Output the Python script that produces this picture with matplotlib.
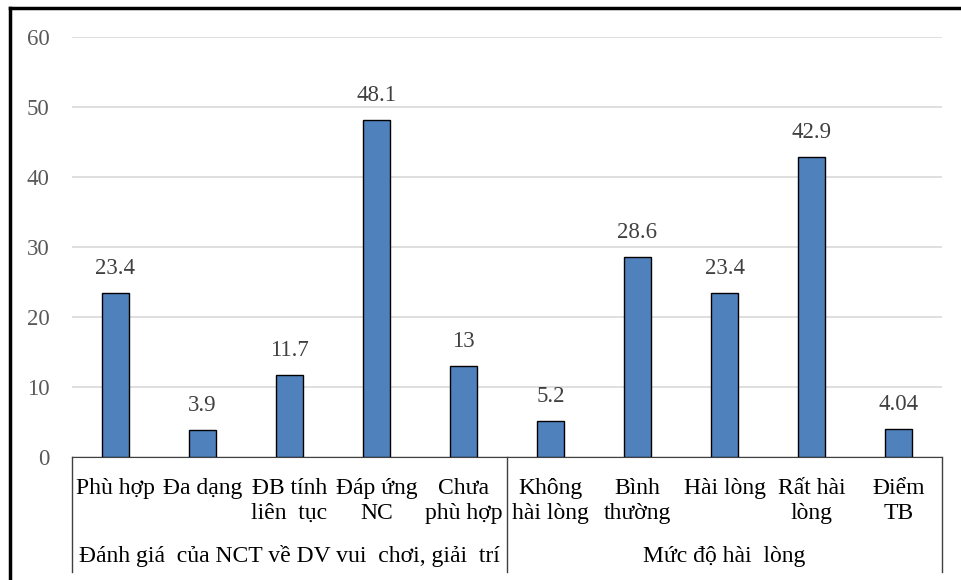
import matplotlib
matplotlib.use("Agg")
import matplotlib.pyplot as plt
from matplotlib.lines import Line2D
import matplotlib.transforms as mtransforms

plt.rcParams['font.family'] = ['Liberation Serif', 'DejaVu Serif']

# dữ liệu
categories = ["Phù hợp", "Đa dạng", "ĐB tính\nliên  tục", "Đáp ứng\nNC", "Chưa\nphù hợp",
              "Không\nhài lòng", "Bình\nthường", "Hài lòng", "Rất hài\nlòng", "Điểm\nTB"]
values = [23.4, 3.9, 11.7, 48.1, 13, 5.2, 28.6, 23.4, 42.9, 4.04]
groups = ["Đánh giá  của NCT về DV vui  chơi, giải  trí", "Mức độ hài  lòng"]
group_sizes = [5, 5]
yticks = [0, 10, 20, 30, 40, 50, 60]

fig = plt.figure(figsize=(9.61, 5.80), dpi=100)
ax = fig.add_axes([72 / 961, 1 - 457 / 580, 870 / 961, 420 / 580])

x = list(range(len(values)))
ax.bar(x, values, width=0.32, color="#4F81BD", edgecolor="black", linewidth=1, zorder=3)
for xi, v in zip(x, values):
    ax.annotate(f"{v:g}", (xi, v), xytext=(0, 10), textcoords="offset points",
                ha="center", va="bottom", fontsize=16.5, color="#404040")

ax.set_xlim(-0.5, len(values) - 0.5)
ax.set_ylim(0, 60)
ax.set_yticks(yticks)
ax.tick_params(axis="y", length=0, pad=16, labelsize=16.5, labelcolor="#595959")
ax.set_xticks([])
ax.grid(axis="y", color="#d9d9d9", linewidth=1.2, zorder=0)
for s in ["top", "right", "left"]:
    ax.spines[s].set_visible(False)
ax.spines["bottom"].set_color("#404040")

# nhãn danh mục hai tầng
trans = mtransforms.blended_transform_factory(ax.transData, ax.transAxes)
for xi, lab in zip(x, categories):
    ax.text(xi, -0.05, lab, transform=trans, ha="center", va="top",
            fontsize=17, linespacing=1.22)

start = 0
bounds = [-0.5]
for g, n in zip(groups, group_sizes):
    ax.text(start + (n - 1) / 2, -0.236, g, transform=trans, ha="center", va="center", fontsize=17)
    start += n
    bounds.append(start - 0.5)
for b in bounds:
    ax.add_line(Line2D([b, b], [0, -0.274], transform=trans, color="#404040",
                       linewidth=1, clip_on=False))

# khung ngoài
fig.add_artist(Line2D([10 / 961, 1], [1 - 8 / 580, 1 - 8 / 580], transform=fig.transFigure,
                      color="black", linewidth=2.5))
fig.add_artist(Line2D([10 / 961, 10 / 961], [0, 1 - 8 / 580], transform=fig.transFigure,
                      color="black", linewidth=2.5))

fig.savefig("out.png", dpi=100)
